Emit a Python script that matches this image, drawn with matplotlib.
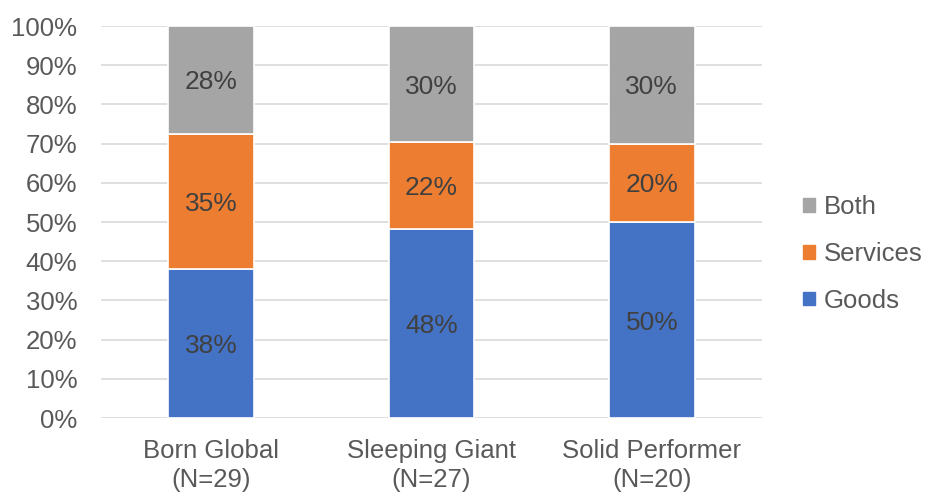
import matplotlib
matplotlib.use("Agg")
import matplotlib.pyplot as plt
from matplotlib.patches import Patch
import numpy as np

plt.rcParams['font.family'] = ['Liberation Sans', 'DejaVu Sans']

categories = ["Born Global\n(N=29)", "Sleeping Giant\n(N=27)", "Solid Performer\n(N=20)"]
goods = [37.9, 48.1, 50.0]
services = [34.6, 22.2, 20.0]
both = [27.5, 29.6, 30.0]
series_names = ["Goods", "Services", "Both"]
colors = ["#4472C4", "#ED7D31", "#A5A5A5"]

fig = plt.figure(figsize=(9.25, 4.93), dpi=100)
ax = fig.add_axes([101/925, 1-418/493, 661/925, 392/493])

x = np.arange(len(categories))
bottom = np.zeros(len(categories))
for vals, name, col in zip([goods, services, both], series_names, colors):
    vals = np.array(vals)
    ax.bar(x, vals, 0.39, bottom=bottom, color=col, edgecolor='white', linewidth=1.2, label=name, zorder=3)
    for xi, b, v in zip(x, bottom, vals):
        ax.text(xi, b + v/2, f"{v:.0f}%", ha='center', va='center_baseline', fontsize=19, color='#404040', zorder=4)
    bottom += vals

ax.set_xlim(-0.5, 2.5)
ax.set_ylim(0, 100)
ax.set_yticks(np.arange(0, 101, 10))
ax.set_yticklabels([f"{t}%" for t in range(0, 101, 10)], fontsize=18.5, color='#595959')
ax.set_xticks(x)
ax.set_xticklabels(categories, fontsize=18.5, color='#595959', linespacing=1.25)
ax.tick_params(axis='y', length=0, pad=17)
ax.tick_params(axis='x', length=0, pad=15)
ax.grid(axis='y', color='#D9D9D9', linewidth=1.2, zorder=0)
for s in ax.spines.values():
    s.set_visible(False)

handles = [Patch(color=c) for c in colors][::-1]
labels = series_names[::-1]
fig.legend(handles, labels, loc='center left', bbox_to_anchor=(803/925, 1-254/493), frameon=False,
           fontsize=18.5, labelcolor='#595959', handlelength=0.45, handleheight=0.45, handletextpad=0.35,
           labelspacing=0.88, borderpad=0, borderaxespad=0)

fig.savefig("out.png", dpi=100)
